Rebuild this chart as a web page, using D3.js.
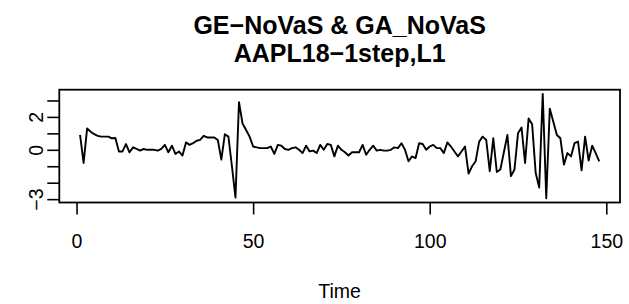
<!DOCTYPE html>
<html>
<head>
<meta charset="utf-8">
<script src="https://cdn.jsdelivr.net/npm/d3@7"></script>
<style>
    body { margin: 0; background: #fff; }
    text { font-family: "Liberation Sans", Arial, Helvetica, sans-serif; fill: #000; }
</style>
</head>
<body>
<div id="chart"></div>
<script>
// series values, one per time step starting at startTime
const startTime = 1;
const values = [
    0.9, -0.8, 1.3, 1.1, 0.95, 0.85, 0.8, 0.8, 0.8, 0.7,
    0.72, -0.1, -0.1, 0.35, -0.15, 0.15, 0.05, -0.05, 0.05, 0.0,
    0.0, 0.0, -0.05, 0.05, 0.3, -0.15, 0.25, -0.25, -0.1, -0.35,
    0.45, 0.3, 0.4, 0.55, 0.6, 0.85, 0.75, 0.75, 0.75, 0.6,
    -0.6, 0.95, 0.8, -1.0, -2.9, 2.9, 1.6, 1.2, 0.8, 0.2,
    0.15, 0.1, 0.1, 0.1, 0.2, -0.25, 0.3, 0.25, 0.05, 0.0,
    0.1, 0.15, 0.0, -0.2, 0.25, -0.1, -0.05, -0.2, 0.3, 0.0,
    0.35, 0.3, -0.4, 0.25, 0.0, -0.15, -0.35, -0.15, -0.15, -0.15,
    0.3, -0.3, 0.0, 0.25, -0.05, 0.0, -0.05, -0.05, 0.0, 0.15,
    0.1, 0.4, 0.0, -0.7, -0.4, -0.5, 0.4, 0.35, 0.0, 0.2,
    0.3, 0.1, 0.1, -0.2, 0.45, 0.2, -0.1, -0.4, -0.1, 0.2,
    -1.45, -1.0, -0.7, 0.5, 0.8, 0.6, -1.3, 0.7, -1.35, -1.2,
    -0.15, 0.9, -1.6, -1.2, 1.0, 1.35, -0.8, 1.9, 1.55, -1.4,
    -2.3, 3.4, -2.95, 2.5, 1.7, 0.9, 0.7, -0.9, -0.2, -0.4,
    0.4, 0.5, -1.25, 0.8, -0.65, 0.25, -0.2, -0.7
];
const time = values.map((d, i) => startTime + i);

const xTicks = [0, 50, 100, 150];
const yTicks = [-3, -2, -1, 0, 1, 2, 3];
const yTickLabels = [-3, 0, 2];   // R drops the labels that would overlap

const titleLines = ["GE\u2212NoVaS & GA_NoVaS", "AAPL18\u22121step,L1"];
const xLabel = "Time";

const width = 629, height = 304;
const margin = {top: 89.7, right: 9, bottom: 101.5, left: 59.3};

/**
 * Extent padded by 4% on both ends, like R's default axis style
 * @param arr numbers to span
 */
function rRange(arr) {
    let [lo, hi] = d3.extent(arr);
    let pad = (hi - lo) * 0.04;
    return [lo - pad, hi + pad];
}

let svg = d3.select("#chart")
    .append("svg")
    .attr("width", width)
    .attr("height", height);

let x = d3.scaleLinear()
    .domain(rRange(time))
    .range([margin.left, width - margin.right]);

let y = d3.scaleLinear()
    .domain(rRange(values))
    .range([height - margin.bottom, margin.top]);

// the series
let line = d3.line()
    .x((d, i) => x(time[i]))
    .y(d => y(d));

svg.append("path")
    .datum(values)
    .attr("fill", "none")
    .attr("stroke", "#000")
    .attr("stroke-width", 1.9)
    .attr("stroke-linejoin", "round")
    .attr("d", line);

// x axis
let xAxis = svg.append("g")
    .attr("transform", `translate(0,${height - margin.bottom})`)
    .call(d3.axisBottom(x).tickValues(xTicks).tickSize(12).tickPadding(20).tickSizeOuter(0));

// y axis, labels written along the axis
let yAxis = svg.append("g")
    .attr("transform", `translate(${margin.left},0)`)
    .call(d3.axisLeft(y).tickValues(yTicks).tickSize(12).tickSizeOuter(0)
        .tickFormat(d => yTickLabels.includes(d) ? d3.format("d")(d) : ""));

yAxis.selectAll(".tick text")
    .attr("x", null)
    .attr("dy", null)
    .attr("text-anchor", "middle")
    .attr("transform", "translate(-16,0) rotate(-90)");

[xAxis, yAxis].forEach(g => {
    g.select(".domain").remove();
    g.selectAll(".tick line").attr("stroke", "#000").attr("stroke-width", 1.6);
    g.selectAll(".tick text")
        .style("font-size", "19.5px")
        .style("font-family", "'Liberation Sans', Arial, sans-serif");
});

// plot box
svg.append("rect")
    .attr("x", margin.left)
    .attr("y", margin.top)
    .attr("width", width - margin.left - margin.right)
    .attr("height", height - margin.top - margin.bottom)
    .attr("fill", "none")
    .attr("stroke", "#000")
    .attr("stroke-width", 1.8);

// title, two bold lines
let cx = (margin.left + width - margin.right) / 2;
svg.selectAll("text.title")
    .data(titleLines)
    .enter()
    .append("text")
    .classed("title", true)
    .attr("x", cx)
    .attr("y", (d, i) => 34 + i * 28)
    .attr("text-anchor", "middle")
    .style("font-size", "25px")
    .style("font-weight", "bold")
    .text(d => d);

svg.append("text")
    .attr("x", cx)
    .attr("y", 298)
    .attr("text-anchor", "middle")
    .style("font-size", "19.5px")
    .text(xLabel);
</script>
</body>
</html>
